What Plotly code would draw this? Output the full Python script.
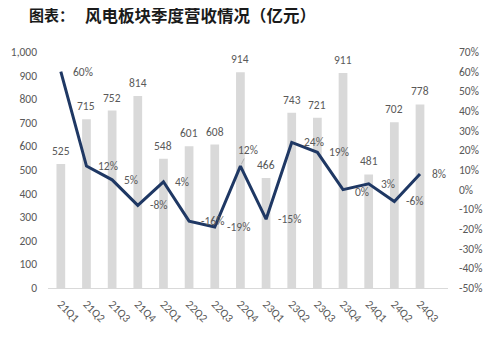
import plotly.graph_objects as go

categories = ["21Q1", "21Q2", "21Q3", "21Q4", "22Q1", "22Q2", "22Q3", "22Q4",
              "23Q1", "23Q2", "23Q3", "23Q4", "24Q1", "24Q2", "24Q3"]
revenue = [525, 715, 752, 814, 548, 601, 608, 914, 466, 743, 721, 911, 481, 702, 778]
growth = [0.60, 0.12, 0.05, -0.08, 0.04, -0.16, -0.19, 0.12, -0.15, 0.24, 0.19, 0.00, 0.03, -0.06, 0.08]
growth_labels = ["60%", "12%", "5%", "-8%", "4%", "-16%", "-19%", "12%", "-15%", "24%",
                 "19%", "0%", "3%", "-6%", "8%"]
left_ticks = [0, 100, 200, 300, 400, 500, 600, 700, 800, 900, 1000]
right_ticks = [-0.5, -0.4, -0.3, -0.2, -0.1, 0.0, 0.1, 0.2, 0.3, 0.4, 0.5, 0.6, 0.7]
right_tick_text = ["-50%", "-40%", "-30%", "-20%", "-10%", "0%", "10%", "20%", "30%",
                   "40%", "50%", "60%", "70%"]
title_prefix = "图表："
title_main = "风电板块季度营收情况（亿元）"
title_next = "图"

FONT = "Calibri, Carlito, Lato, 'Liberation Sans', sans-serif"
CJK = "'Noto Sans CJK SC', sans-serif"
GRAY = "#595959"

fig = go.Figure()
fig.add_trace(go.Bar(x=categories, y=revenue, width=0.34,
                     marker=dict(color="#d9d9d9", line=dict(width=0)),
                     hoverinfo="skip", yaxis="y"))
fig.add_trace(go.Scatter(x=categories, y=growth, mode="lines",
                         line=dict(color="#1f3864", width=3),
                         yaxis="y2", hoverinfo="skip"))

annotations = []
for c, v in zip(categories, revenue):
    annotations.append(dict(x=c, y=v, xref="x", yref="y", text=f"{v:,}",
                            showarrow=False, yanchor="middle", yshift=13,
                            font=dict(family=FONT, size=11.5, color=GRAY)))
for c, g, t in zip(categories, growth, growth_labels):
    if c == "22Q4":
        annotations.append(dict(x=c, y=g, xref="x", yref="y2", text=t,
                                showarrow=True, arrowhead=0, arrowwidth=0.8,
                                arrowcolor="#a6a6a6", ax=8, ay=-16, standoff=2,
                                font=dict(family=FONT, size=11.5, color=GRAY)))
    else:
        annotations.append(dict(x=c, y=g, xref="x", yref="y2", text=t,
                                showarrow=False, xanchor="left", xshift=10,
                                yanchor="middle",
                                yshift=-2 if c == "23Q4" else 0,
                                font=dict(family=FONT, size=11.5, color=GRAY)))

# plot area is 400 x 236 px; title positions relative to it
ty = (236 + 37) / 236
annotations.append(dict(x=-21 / 400, y=ty, xref="paper", yref="paper",
                        text=f"<b>{title_prefix}</b>", showarrow=False,
                        xanchor="left", yanchor="middle",
                        font=dict(family=CJK, size=15, color="#1a1a1a")))
annotations.append(dict(x=35 / 400, y=ty, xref="paper", yref="paper",
                        text=f"<b>{title_main}</b>", showarrow=False,
                        xanchor="left", yanchor="middle",
                        font=dict(family=CJK, size=16.5, color="#1a1a1a")))
annotations.append(dict(x=445 / 400, y=ty, xref="paper", yref="paper",
                        text=f"<b>{title_next}</b>", showarrow=False,
                        xanchor="left", yanchor="middle",
                        font=dict(family=CJK, size=15, color="#1a1a1a")))

fig.update_layout(
    width=495, height=348,
    margin=dict(l=40, r=55, t=44, b=68, pad=0, autoexpand=False),
    paper_bgcolor="white", plot_bgcolor="white",
    showlegend=False,
    font=dict(family=FONT, size=11.5, color=GRAY),
    xaxis=dict(type="category", tickangle=45, showgrid=False, showline=True,
               linecolor="#d9d9d9", linewidth=1, ticks="", ticklabelstandoff=4,
               automargin=False,
               tickfont=dict(family=FONT, size=11.5, color=GRAY), fixedrange=True),
    yaxis=dict(range=[0, 1000], tickvals=left_ticks, tickformat=",", showgrid=False,
               zeroline=False, showline=False, ticks="", ticklabelstandoff=10,
               automargin=False,
               tickfont=dict(family=FONT, size=11.5, color=GRAY)),
    yaxis2=dict(range=[-0.5, 0.7], overlaying="y", side="right", tickvals=right_ticks,
                ticktext=right_tick_text, showgrid=False, zeroline=False, showline=False,
                ticks="", ticklabelstandoff=10, automargin=False,
                tickfont=dict(family=FONT, size=11.5, color=GRAY)),
    annotations=annotations,
)

fig.write_html("out.html")
